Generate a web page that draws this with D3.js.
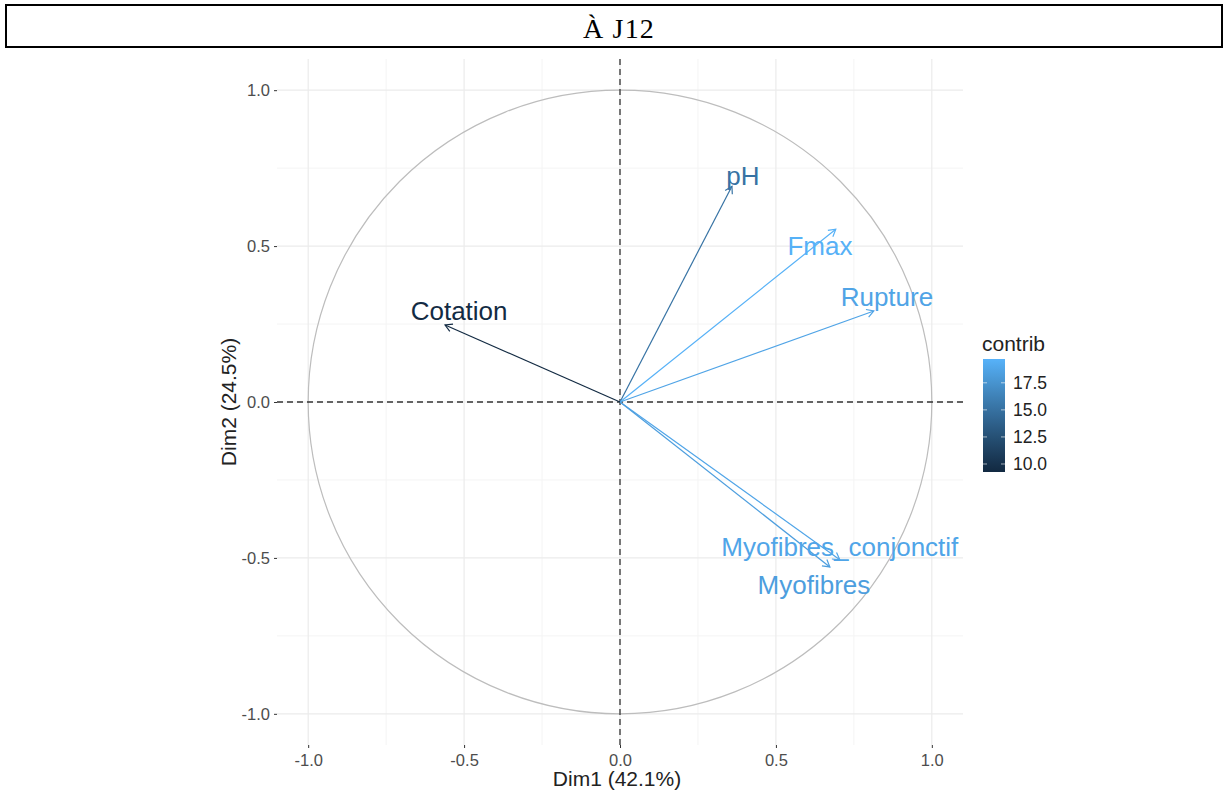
<!DOCTYPE html>
<html><head><meta charset="utf-8">
<script src="https://cdn.jsdelivr.net/npm/d3@7"></script>
<style>body{margin:0;background:#fff;} svg{display:block;}</style>
</head><body>
<svg id="chart" width="1229" height="796"></svg>
<script>
const variables = ["pH", "Fmax", "Rupture", "Cotation", "Myofibres_conjonctif", "Myofibres"];
const dim1 = [0.359, 0.692, 0.814, -0.561, 0.705, 0.673];
const dim2 = [0.692, 0.554, 0.292, 0.247, -0.506, -0.529];
const contrib = [15.2, 19.6, 18.7, 9.4, 18.8, 18.3];
const labelX = [0.394, 0.641, 0.856, -0.516, 0.705, 0.622];
const labelY = [0.724, 0.500, 0.337, 0.292, -0.465, -0.587];
const tickValues = [-1.0, -0.5, 0.0, 0.5, 1.0];
const minorValues = [-0.75, -0.25, 0.25, 0.75];
const legendTicks = [10.0, 12.5, 15.0, 17.5];
const titleText = "À J12";
const xTitle = "Dim1 (42.1%)";
const yTitle = "Dim2 (24.5%)";
const legendTitle = "contrib";

const svg = d3.select("#chart");
const font = "'Liberation Sans', Arial, sans-serif";

// Title box
svg.append("rect").attr("x", 6).attr("y", 5).attr("width", 1216).attr("height", 42)
  .attr("fill", "#fff").attr("stroke", "#000").attr("stroke-width", 2);
svg.append("text").attr("x", 619).attr("y", 38).attr("text-anchor", "middle")
  .attr("font-family", "'Liberation Serif', 'Times New Roman', serif").attr("font-size", 28)
  .attr("letter-spacing", 1.2)
  .text(titleText);

const x = d3.scaleLinear().domain([-1.1, 1.1]).range([277, 963]);
const y = d3.scaleLinear().domain([-1.1, 1.1]).range([745, 59]);

const g = svg.append("g");
// minor grid
minorValues.forEach(v => {
  g.append("line").attr("x1", x(v)).attr("x2", x(v)).attr("y1", y(1.1)).attr("y2", y(-1.1))
    .attr("stroke", "#f4f4f4").attr("stroke-width", 1);
  g.append("line").attr("y1", y(v)).attr("y2", y(v)).attr("x1", x(-1.1)).attr("x2", x(1.1))
    .attr("stroke", "#f4f4f4").attr("stroke-width", 1);
});
tickValues.forEach(v => {
  g.append("line").attr("x1", x(v)).attr("x2", x(v)).attr("y1", y(1.1)).attr("y2", y(-1.1))
    .attr("stroke", "#ebebeb").attr("stroke-width", 1.2);
  g.append("line").attr("y1", y(v)).attr("y2", y(v)).attr("x1", x(-1.1)).attr("x2", x(1.1))
    .attr("stroke", "#ebebeb").attr("stroke-width", 1.2);
});

// circle
g.append("circle").attr("cx", x(0)).attr("cy", y(0)).attr("r", x(1) - x(0))
  .attr("fill", "none").attr("stroke", "#bdbdbd").attr("stroke-width", 1.2);

// dashed axes
g.append("line").attr("x1", x(0)).attr("x2", x(0)).attr("y1", y(1.1)).attr("y2", y(-1.1))
  .attr("stroke", "#333").attr("stroke-width", 1.3).attr("stroke-dasharray", "6,4");
g.append("line").attr("y1", y(0)).attr("y2", y(0)).attr("x1", x(-1.1)).attr("x2", x(1.1))
  .attr("stroke", "#333").attr("stroke-width", 1.3).attr("stroke-dasharray", "6,4");

// axes
const xAxis = d3.axisBottom(x).tickValues(tickValues).tickFormat(d3.format(".1f")).tickSize(3).tickPadding(6);
const yAxis = d3.axisLeft(y).tickValues(tickValues).tickFormat(d3.format(".1f")).tickSize(3).tickPadding(4);
const ax = svg.append("g").attr("transform", `translate(0,${y(-1.1)})`).call(xAxis);
const ay = svg.append("g").attr("transform", `translate(${x(-1.1)},0)`).call(yAxis);
[ax, ay].forEach(a => {
  a.select(".domain").remove();
  a.selectAll(".tick line").attr("stroke", "#333");
  a.selectAll("text").attr("fill", "#4d4d4d").attr("font-size", 16.5).attr("font-family", font);
});
ax.selectAll(".tick text").text(d => d3.format(".1f")(d).replace("−", "-"));
ay.selectAll(".tick text").text(d => d3.format(".1f")(d).replace("−", "-")).attr("dy", "0.35em");

svg.append("text").attr("x", x(0) - 3).attr("y", 786).attr("text-anchor", "middle")
  .attr("font-family", font).attr("font-size", 21).attr("fill", "#222").text(xTitle);
svg.append("text").attr("transform", `translate(236,${y(0)}) rotate(-90)`).attr("text-anchor", "middle")
  .attr("font-family", font).attr("font-size", 21).attr("fill", "#222").text(yTitle);

// color scale
const cmin = d3.min(contrib), cmax = d3.max(contrib);
const color = d3.scaleLinear().domain([cmin, cmax]).range(["#132B43", "#56B1F7"]).interpolate(d3.interpolateLab);

// arrows
const data = variables.map((v, i) => ({name: v, x: dim1[i], y: dim2[i], c: contrib[i], lx: labelX[i], ly: labelY[i]}));
data.forEach(d => {
  const col = color(d.c);
  const x0 = x(0), y0 = y(0), x1 = x(d.x), y1 = y(d.y);
  g.append("line").attr("x1", x0).attr("y1", y0).attr("x2", x1).attr("y2", y1)
    .attr("stroke", col).attr("stroke-width", 1.2);
  const ang = Math.atan2(y1 - y0, x1 - x0);
  const L = 8, a = Math.PI / 6;
  const p = [[x1 - L * Math.cos(ang - a), y1 - L * Math.sin(ang - a)], [x1, y1], [x1 - L * Math.cos(ang + a), y1 - L * Math.sin(ang + a)]];
  g.append("path").attr("d", d3.line()(p)).attr("fill", "none").attr("stroke", col).attr("stroke-width", 1.2);
});
data.forEach(d => {
  g.append("text").attr("x", x(d.lx)).attr("y", y(d.ly)).attr("text-anchor", "middle")
    .attr("dominant-baseline", "central").attr("font-family", font).attr("font-size", 26)
    .attr("fill", color(d.c)).text(d.name);
});

// legend
const lx = 983, lw = 22, ltop = 359, lbot = 472;
const lscale = d3.scaleLinear().domain([9.26, 19.7]).range([lbot, ltop]);
const defs = svg.append("defs");
const grad = defs.append("linearGradient").attr("id", "lg").attr("x1", 0).attr("x2", 0).attr("y1", 1).attr("y2", 0);
d3.range(0, 1.0001, 0.1).forEach(t => {
  const v = 9.26 + t * (19.7 - 9.26);
  grad.append("stop").attr("offset", t).attr("stop-color", color(v));
});
svg.append("rect").attr("x", lx).attr("y", ltop).attr("width", lw).attr("height", lbot - ltop).attr("fill", "url(#lg)");
legendTicks.forEach(v => {
  const yy = lscale(v);
  svg.append("line").attr("x1", lx).attr("x2", lx + 4).attr("y1", yy).attr("y2", yy).attr("stroke", "#fff").attr("stroke-opacity", 0.6);
  svg.append("line").attr("x1", lx + lw - 4).attr("x2", lx + lw).attr("y1", yy).attr("y2", yy).attr("stroke", "#fff").attr("stroke-opacity", 0.6);
  svg.append("text").attr("x", lx + lw + 8).attr("y", yy).attr("dominant-baseline", "central")
    .attr("font-family", font).attr("font-size", 17.5).attr("fill", "#222").text(v.toFixed(1));
});
svg.append("text").attr("x", lx - 1).attr("y", 351).attr("font-family", font).attr("font-size", 21)
  .attr("fill", "#222").text(legendTitle);
</script>
</body></html>
